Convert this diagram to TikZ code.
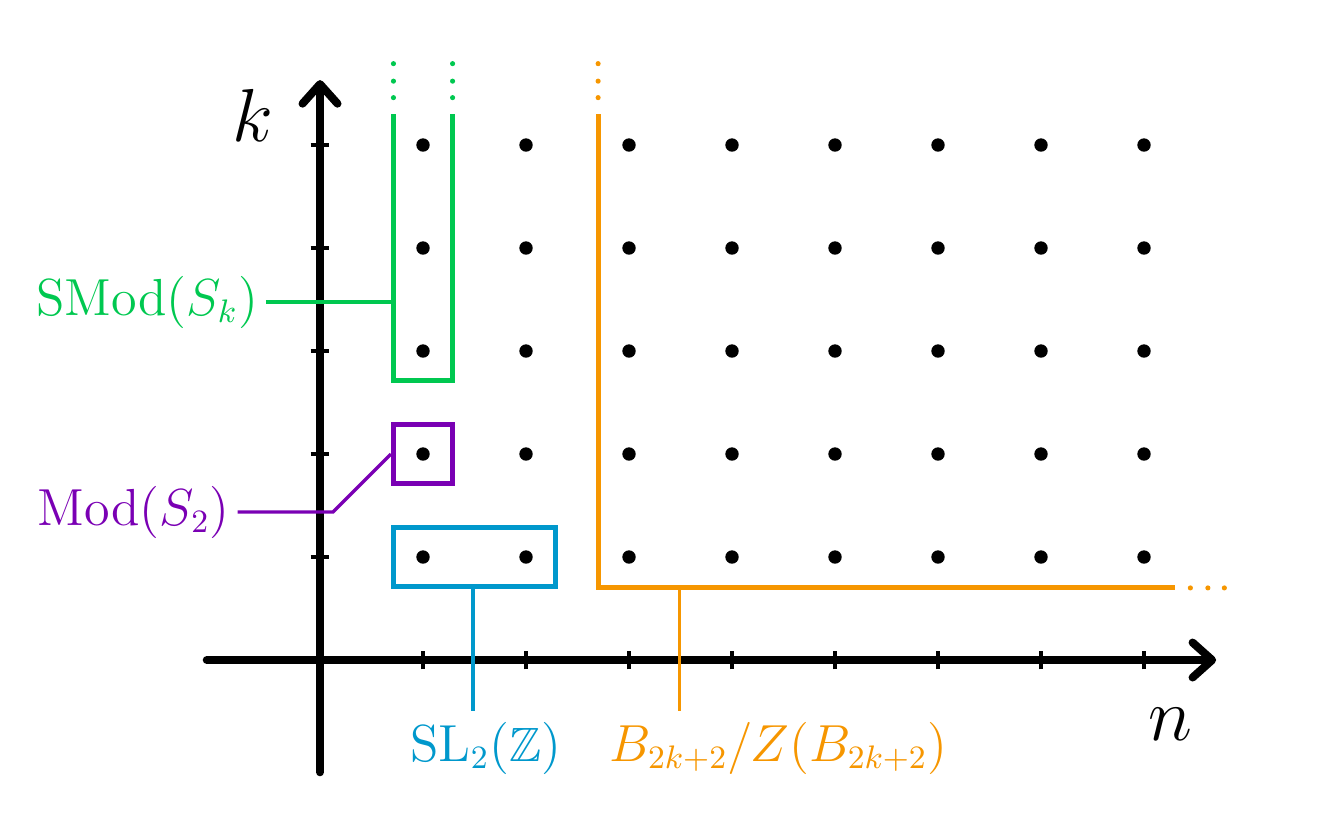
\documentclass[tikz,border=0pt]{standalone}
\usepackage{amsmath,amssymb,amsfonts}
\usepackage{xcolor}
\usetikzlibrary{arrows.meta}

\definecolor{smodgreen}{RGB}{0,200,80}
\definecolor{modpurple}{RGB}{122,0,180}
\definecolor{slblue}{RGB}{0,152,204}
\definecolor{braidorange}{RGB}{246,150,0}

\begin{document}
\begin{tikzpicture}[
  axis/.style={line width=2.2pt,line cap=round,-{Straight Barb[round,length=1.9mm,width=3.4mm]}},
  tick/.style={line width=1.3pt},
  region/.style={line width=1.4pt},
  pointer/.style={line width=0.9pt},
  lbl/.style={font=\fontsize{13.3}{16}\selectfont,inner sep=0.1cm}
]
\useasboundingbox (-3.107,-1.612) rectangle (9.864,6.408);

% axes
\draw [axis] (-1.10,0) -- (8.70,0);
\draw [axis] (0,-1.09) -- (0,5.63);
\node (klabel) at (-0.65,5.29) {\huge $k$};
\node (nlabel) at (8.26,-0.62) {\huge $n$};
\foreach \x in {1,...,8} \draw [tick] (\x,-0.09) -- (\x,0.09);
\foreach \y in {1,...,5} \draw [tick] (-0.09,\y) -- (0.09,\y);

% lattice points
\foreach \x in {1,...,8}
  \foreach \y in {1,...,5}
    \fill (\x,\y) circle (0.065);

% SMod(S_k)
\draw [region,smodgreen] (0.713,5.30) -- (0.713,2.713) -- (1.287,2.713) -- (1.287,5.30);
\foreach \y in {5.46,5.62,5.79} {
  \fill [smodgreen] (0.713,\y) circle (0.025);
  \fill [smodgreen] (1.287,\y) circle (0.025);
}
\coordinate (gwest) at (0.713,3.476);
\node [lbl,smodgreen,anchor=east,inner xsep=0.07cm,inner ysep=0pt] (smod) at (-0.525,3.476) {$\mathrm{SMod}(S_k)$};
\draw [pointer,smodgreen] (smod.east) -- (gwest);

% Mod(S_2)
\node [region,draw=modpurple,minimum width=0.574cm,minimum height=0.574cm,inner sep=0pt] (pbox) at (1,2) {};
\node [lbl,modpurple,anchor=east,inner xsep=0.07cm,inner ysep=0pt] (mod) at (-0.80,1.437) {$\mathrm{Mod}(S_2)$};
\draw [pointer,modpurple] (mod.east) -- (0.126,1.437) -- (pbox.west);

% SL_2(Z)
\node [region,draw=slblue,minimum width=1.574cm,minimum height=0.574cm,inner sep=0pt] (slbox) at (1.5,1) {};
\node [lbl,slblue] (sl) at (1.61,-0.855) {$\mathrm{SL}_2(\mathbb{Z})$};
\coordinate (slx) at (1.485,0);
\draw [pointer,slblue] (slbox.south -| slx) -- (sl.north -| slx);

% B_{2k+2}/Z(B_{2k+2})
\draw [region,braidorange] (2.70,5.30) -- (2.70,0.70) -- (8.30,0.70);
\foreach \y in {5.46,5.62,5.79} \fill [braidorange] (2.70,\y) circle (0.025);
\foreach \x in {8.45,8.62,8.78} \fill [braidorange] (\x,0.70) circle (0.025);
\coordinate (bcorner) at (3.49,0.70);
\node [lbl,braidorange] (braid) at (4.45,-0.855) {$B_{2k+2}/Z(B_{2k+2})$};
\draw [pointer,braidorange] (bcorner) -- (braid.north -| bcorner);
\end{tikzpicture}
\end{document}
